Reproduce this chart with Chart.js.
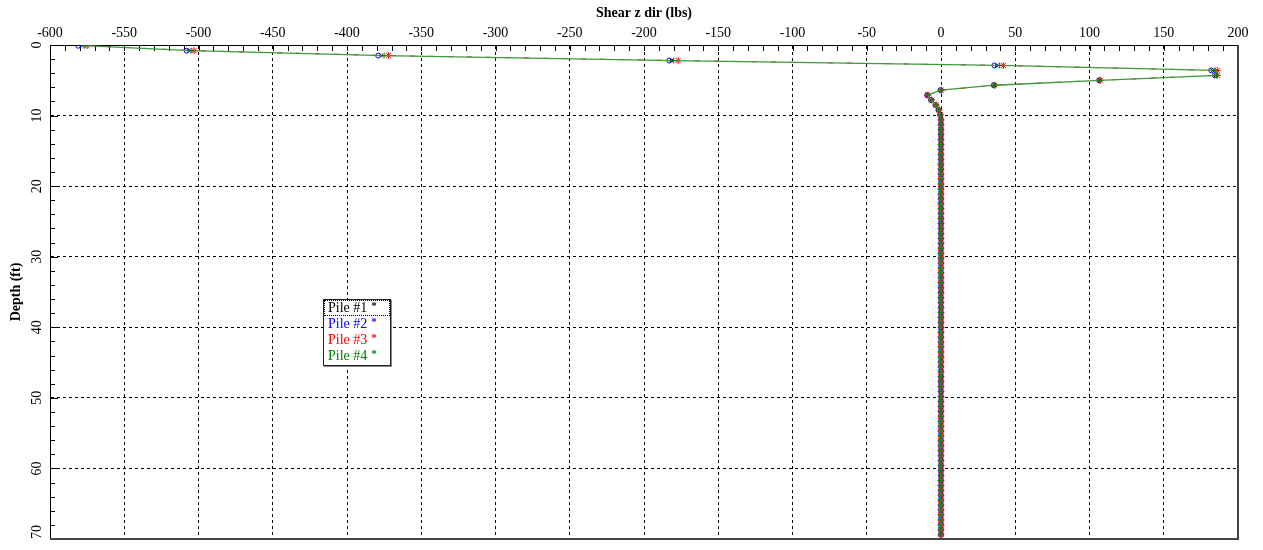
<!DOCTYPE html>
<html>
<head>
<meta charset="utf-8">
<script src="https://cdn.jsdelivr.net/npm/chart.js@4.4.0/dist/chart.umd.min.js"></script>
<style>
    body { margin: 0; background: #fff; }
    #wrap { position: relative; width: 1263px; height: 550px; }
    #legend {
        position: absolute;
        left: 323px;
        top: 299px;
        width: 66px;
        padding: 0 0 1px 0;
        border: 1px solid #222;
        box-shadow: 1px 1px 0 #888;
        background: #fff;
        font: 14px "Liberation Serif", "Times New Roman", serif;
        line-height: 16px;
    }
    #legend .row { padding-left: 4px; height: 16px; white-space: nowrap; }
    #legend .row.first { outline: 1px dotted #000; outline-offset: -1px; }
    #legend .mk { font-size: 11px; line-height: 0; position: relative; top: -3px; margin-left: 4px; font-weight: bold; }
</style>
</head>
<body>
<div id="wrap">
    <canvas id="shearChart" width="1263" height="550"></canvas>
    <div id="legend">
        <div class="row first" style="color:#000">Pile #1<span class="mk">*</span></div>
        <div class="row" style="color:#0000ff">Pile #2<span class="mk">*</span></div>
        <div class="row" style="color:#ff0000">Pile #3<span class="mk">*</span></div>
        <div class="row" style="color:#008000">Pile #4<span class="mk">*</span></div>
    </div>
</div>
<script>
const depthFt = [
    0.1, 0.8, 1.5, 2.2, 2.9, 3.6, 4.3, 5.0, 5.7, 6.4, 7.1, 7.8, 8.5, 9.2, 9.9,
    10.6, 11.3, 12.0, 12.7, 13.4, 14.1, 14.8, 15.5, 16.2, 16.9, 17.6, 18.3, 19.0, 19.7,
    20.4, 21.1, 21.8, 22.5, 23.2, 23.9, 24.6, 25.3, 26.0, 26.7, 27.4, 28.1, 28.8, 29.5,
    30.2, 30.9, 31.6, 32.3, 33.0, 33.7, 34.4, 35.1, 35.8, 36.5, 37.2, 37.9, 38.6, 39.3,
    40.0, 40.7, 41.4, 42.1, 42.8, 43.5, 44.2, 44.9, 45.6, 46.3, 47.0, 47.7, 48.4, 49.1,
    49.8, 50.5, 51.2, 51.9, 52.6, 53.3, 54.0, 54.7, 55.4, 56.1, 56.8, 57.5, 58.2, 58.9,
    59.6, 60.3, 61.0, 61.7, 62.4, 63.1, 63.8, 64.5, 65.2, 65.9, 66.6, 67.3, 68.0, 68.7,
    69.4
];

// shallow part of each pile (first 15 depths), differs a little pile to pile
const pile1Top = [-579, -506.5, -377, -181.5, 37.5, 183, 185, 106.8, 35.8, -0.1, -9.1, -6.6, -3.5, -1.5, -0.5];
const pile2Top = [-581, -508, -379, -183, 36, 182, 184.5, 106.5, 35.5, -0.3, -9.3, -6.7, -3.6, -1.6, -0.6];
const pile3Top = [-575, -503, -372, -177, 42, 186, 186, 107.3, 36.3, 0.2, -8.8, -6.3, -3.3, -1.3, -0.4];
const pile4Top = [-577, -505, -375, -180, 39.5, 184.5, 185.5, 107, 36, 0, -9, -6.5, -3.5, -1.5, -0.5];

// below ~10 ft the shear stays at zero for every pile
const deepShear = [
    0, 0, 0, 0, 0, 0, 0, 0, 0, 0, 0, 0, 0, 0, 0, 0, 0, 0, 0, 0,
    0, 0, 0, 0, 0, 0, 0, 0, 0, 0, 0, 0, 0, 0, 0, 0, 0, 0, 0, 0,
    0, 0, 0, 0, 0, 0, 0, 0, 0, 0, 0, 0, 0, 0, 0, 0, 0, 0, 0, 0,
    0, 0, 0, 0, 0, 0, 0, 0, 0, 0, 0, 0, 0, 0, 0, 0, 0, 0, 0, 0,
    0, 0, 0, 0, 0
];

const xTicks = [-600, -550, -500, -450, -400, -350, -300, -250, -200, -150, -100, -50, 0, 50, 100, 150, 200];
const yTicks = [0, 10, 20, 30, 40, 50, 60, 70];

const SERIF = '"Liberation Serif", "Times New Roman", serif';

function toPoints(top) {
    const vals = top.concat(deepShear);
    return depthFt.map((d, i) => ({ x: vals[i], y: d }));
}

function edgeGrid(min, max) {
    return ctx => {
        const v = ctx.tick ? ctx.tick.value : null;
        return (v === min || v === max) ? "rgba(0,0,0,0)" : "#000";
    };
}

// inward tick marks, rotated depth labels, right/bottom frame
const axisDecor = {
    id: "axisDecor",
    beforeDatasetsDraw(chart) {
        const { ctx, chartArea: a, scales } = chart;
        const xs = scales.x, ys = scales.y;
        ctx.save();
        ctx.strokeStyle = "#000";
        ctx.lineWidth = 1;
        ctx.beginPath();
        for (let v = -600; v <= 200; v += 10) {
            const px = Math.round(xs.getPixelForValue(v)) + 0.5;
            ctx.moveTo(px, a.top);
            ctx.lineTo(px, a.top + 6);
        }
        for (let v = 0; v <= 70; v += 2) {
            const py = Math.round(ys.getPixelForValue(v)) + 0.5;
            const len = v % 10 === 0 ? 8 : 5;
            ctx.moveTo(a.left, py);
            ctx.lineTo(a.left + len, py);
        }
        ctx.stroke();

        ctx.strokeStyle = "#444";
        ctx.lineWidth = 2;
        ctx.beginPath();
        ctx.moveTo(a.right, a.top);
        ctx.lineTo(a.right, a.bottom);
        ctx.lineTo(a.left, a.bottom);
        ctx.stroke();

        ctx.fillStyle = "#000";
        ctx.font = "14px " + SERIF;
        ctx.textAlign = "center";
        ctx.textBaseline = "middle";
        yTicks.forEach(v => {
            const label = String(v);
            const half = ctx.measureText(label).width / 2;
            let py = ys.getPixelForValue(v);
            if (py + half > a.bottom) py = a.bottom - half;
            ctx.save();
            ctx.translate(37, py);
            ctx.rotate(-Math.PI / 2);
            ctx.fillText(label, 0, 0);
            ctx.restore();
        });
        ctx.restore();
    }
};

new Chart(document.getElementById("shearChart"), {
    type: "scatter",
    data: {
        datasets: [
            {
                label: "Pile #4",
                data: toPoints(pile4Top),
                showLine: true,
                borderColor: "#3c9c3c",
                backgroundColor: "#008000",
                pointBorderColor: "#008000",
                borderWidth: 1.3,
                pointStyle: "cross",
                pointRadius: 3,
                pointBorderWidth: 1,
                order: 0
            },
            {
                label: "Pile #3",
                data: toPoints(pile3Top),
                showLine: true,
                borderColor: "#ff0000",
                backgroundColor: "#ff0000",
                borderWidth: 1,
                borderDash: [5, 14],
                pointStyle: "star",
                pointRadius: 3.5,
                pointBorderWidth: 1,
                order: 1
            },
            {
                label: "Pile #2",
                data: toPoints(pile2Top),
                showLine: false,
                borderColor: "#0000ff",
                backgroundColor: "rgba(0,0,0,0)",
                pointStyle: "circle",
                pointRadius: 2.5,
                pointBorderWidth: 1,
                order: 2
            },
            {
                label: "Pile #1",
                data: toPoints(pile1Top),
                showLine: false,
                borderColor: "#000",
                backgroundColor: "#000",
                pointStyle: "crossRot",
                pointRadius: 2.5,
                pointBorderWidth: 1,
                order: 3
            }
        ]
    },
    options: {
        responsive: false,
        animation: false,
        layout: {
            padding: { left: 0, top: 0, right: 25, bottom: 11 }
        },
        plugins: {
            legend: { display: false },
            tooltip: { enabled: false }
        },
        scales: {
            x: {
                type: "linear",
                position: "top",
                min: -600,
                max: 200,
                afterBuildTicks: s => { s.ticks = xTicks.map(v => ({ value: v })); },
                afterFit: s => { s.height = 45; },
                ticks: {
                    color: "#000",
                    padding: 3,
                    maxRotation: 0,
                    font: { family: SERIF, size: 14 }
                },
                grid: {
                    color: edgeGrid(-600, 200),
                    drawTicks: false
                },
                border: { display: true, color: "#000", width: 1, dash: [3, 3] },
                title: {
                    display: true,
                    text: "Shear z dir (lbs)",
                    color: "#000",
                    padding: { top: 5, bottom: 0 },
                    font: { family: SERIF, size: 14, weight: "bold" }
                }
            },
            y: {
                type: "linear",
                reverse: true,
                min: 0,
                max: 70,
                afterBuildTicks: s => { s.ticks = yTicks.map(v => ({ value: v })); },
                afterFit: s => { s.width = 50; },
                ticks: { display: false },
                grid: {
                    color: edgeGrid(0, 70),
                    drawTicks: false
                },
                border: { display: true, color: "#000", width: 1, dash: [3, 3] },
                title: {
                    display: true,
                    text: "Depth (ft)",
                    color: "#000",
                    padding: { top: 8, bottom: 0 },
                    font: { family: SERIF, size: 14, weight: "bold" }
                }
            }
        }
    },
    plugins: [axisDecor]
});
</script>
</body>
</html>
